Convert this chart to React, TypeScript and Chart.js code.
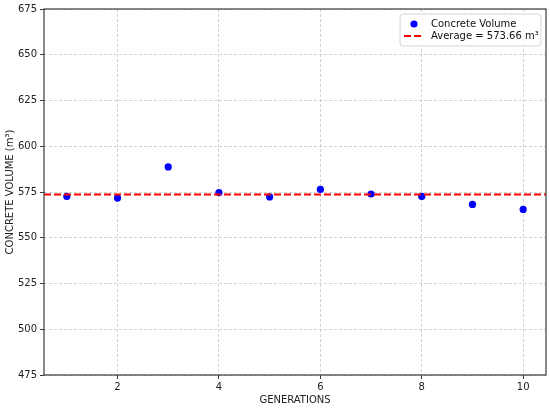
import React, { useEffect, useRef } from "react";
import { Chart, registerables } from "chart.js";

Chart.register(...registerables);

const generations = [1, 2, 3, 4, 5, 6, 7, 8, 9, 10];
const volumes = [572.6, 571.7, 588.7, 574.7, 572.3, 576.4, 573.9, 572.6, 568.2, 565.5];
const averageValue = 573.66;
const xTicks = [2, 4, 6, 8, 10];
const xLimits = [0.55, 10.45];
const yLimits = [475, 675];
const yStep = 25;
const seriesLabel = "Concrete Volume";
const averageLabel = "Average = 573.66 m³";
const xTitle = "GENERATIONS";
const yTitle = "CONCRETE VOLUME (m³)";

const FONT = "'DejaVu Sans', sans-serif";

const framePlugin = {
  id: "frame",
  afterDatasetsDraw(chart: any) {
    const { ctx, chartArea: a } = chart;
    ctx.save();
    ctx.strokeStyle = "#3a3a3a";
    ctx.lineWidth = 1.2;
    ctx.setLineDash([]);
    ctx.strokeRect(a.left, a.top, a.right - a.left, a.bottom - a.top);
    ctx.restore();
  },
};

const legendPlugin = {
  id: "boxLegend",
  afterDraw(chart: any) {
    const { ctx, chartArea: a } = chart;
    const ds = chart.data.datasets;
    const boxW = 141;
    const boxH = 32;
    const x0 = a.right - 5 - boxW;
    const y0 = a.top + 5;
    ctx.save();
    ctx.beginPath();
    const r = 3;
    ctx.moveTo(x0 + r, y0);
    ctx.lineTo(x0 + boxW - r, y0);
    ctx.arcTo(x0 + boxW, y0, x0 + boxW, y0 + r, r);
    ctx.lineTo(x0 + boxW, y0 + boxH - r);
    ctx.arcTo(x0 + boxW, y0 + boxH, x0 + boxW - r, y0 + boxH, r);
    ctx.lineTo(x0 + r, y0 + boxH);
    ctx.arcTo(x0, y0 + boxH, x0, y0 + boxH - r, r);
    ctx.lineTo(x0, y0 + r);
    ctx.arcTo(x0, y0, x0 + r, y0, r);
    ctx.closePath();
    ctx.fillStyle = "rgba(255,255,255,0.85)";
    ctx.fill();
    ctx.strokeStyle = "#d4d4d4";
    ctx.lineWidth = 1;
    ctx.stroke();

    ctx.font = `10px ${FONT}`;
    ctx.textBaseline = "middle";
    ctx.textAlign = "left";
    ds.forEach((d: any, i: number) => {
      const cy = y0 + 10 + i * 12;
      if (d.showLine) {
        ctx.beginPath();
        ctx.setLineDash(d.borderDash || []);
        ctx.strokeStyle = d.borderColor;
        ctx.lineWidth = d.borderWidth;
        ctx.moveTo(x0 + 4, cy);
        ctx.lineTo(x0 + 24, cy);
        ctx.stroke();
        ctx.setLineDash([]);
      } else {
        ctx.beginPath();
        ctx.fillStyle = d.backgroundColor;
        ctx.arc(x0 + 14, cy, d.pointRadius, 0, Math.PI * 2);
        ctx.fill();
      }
      ctx.fillStyle = "#111";
      ctx.fillText(d.label, x0 + 31, cy + 0.5);
    });
    ctx.restore();
  },
};

export default function App() {
  const canvasRef = useRef<HTMLCanvasElement | null>(null);

  useEffect(() => {
    const canvas = canvasRef.current;
    if (!canvas) return;
    const chart = new Chart(canvas, {
      type: "scatter",
      data: {
        datasets: [
          {
            label: seriesLabel,
            data: generations.map((g, i) => ({ x: g, y: volumes[i] })),
            backgroundColor: "#0000ff",
            borderColor: "#0000ff",
            pointRadius: 3.6,
            pointBorderWidth: 0,
            order: 1,
          } as any,
          {
            label: averageLabel,
            data: [
              { x: xLimits[0], y: averageValue },
              { x: xLimits[1], y: averageValue },
            ],
            showLine: true,
            borderColor: "#ff0000",
            backgroundColor: "#ff0000",
            borderWidth: 2,
            borderDash: [7, 3],
            pointRadius: 0,
            order: 0,
          } as any,
        ],
      },
      options: {
        responsive: false,
        animation: false,
        devicePixelRatio: 1,
        layout: { padding: { top: 8, right: 3, left: 0, bottom: 0 } },
        plugins: {
          legend: { display: false },
          tooltip: { enabled: false },
        },
        scales: {
          x: {
            type: "linear",
            min: xLimits[0],
            max: xLimits[1],
            afterBuildTicks: (scale: any) => {
              scale.ticks = xTicks.map((v) => ({ value: v }));
            },
            afterFit: (scale: any) => {
              scale.height = 33;
            },
            ticks: {
              color: "#222",
              font: { family: FONT, size: 10 },
              padding: 2,
              maxRotation: 0,
              autoSkip: false,
            },
            grid: {
              color: "rgba(176,176,176,0.7)",
              lineWidth: 0.8,
              tickColor: "#3a3a3a",
              tickLength: 4,
              tickWidth: 1,
              tickBorderDash: [],
            },
            border: { display: false, dash: [3, 2] },
            title: {
              display: true,
              text: xTitle,
              color: "#222",
              font: { family: FONT, size: 10 },
              padding: { top: 2, bottom: 2 },
            },
          } as any,
          y: {
            type: "linear",
            min: yLimits[0],
            max: yLimits[1],
            afterFit: (scale: any) => {
              scale.width = 44;
            },
            ticks: {
              stepSize: yStep,
              color: "#222",
              font: { family: FONT, size: 10 },
              padding: 3,
            },
            grid: {
              color: "rgba(176,176,176,0.7)",
              lineWidth: 0.8,
              tickColor: "#3a3a3a",
              tickLength: 4,
              tickWidth: 1,
              tickBorderDash: [],
            },
            border: { display: false, dash: [3, 2] },
            title: {
              display: true,
              text: yTitle,
              color: "#222",
              font: { family: FONT, size: 10 },
              padding: { top: 4, bottom: 4 },
            },
          } as any,
        },
      },
      plugins: [framePlugin, legendPlugin],
    });
    return () => chart.destroy();
  }, []);

  return (
    <div style={{ position: "fixed", left: 0, top: 0, width: 550, height: 408, background: "#fff" }}>
      <canvas ref={canvasRef} width={550} height={408} style={{ width: 550, height: 408, display: "block" }} />
    </div>
  );
}
